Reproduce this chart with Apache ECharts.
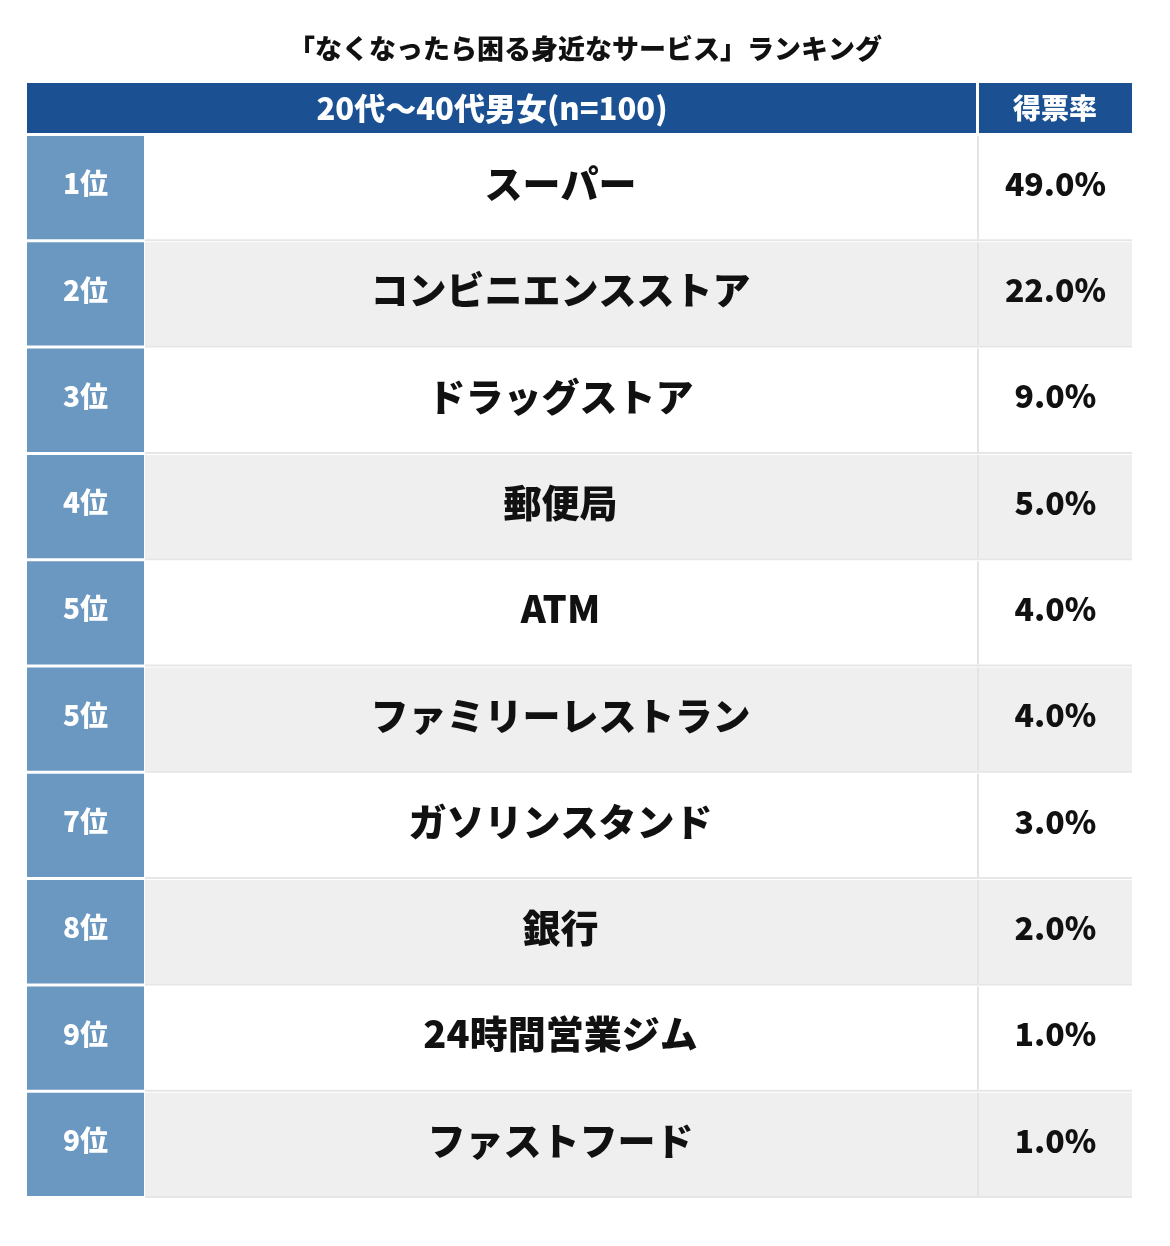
<!DOCTYPE html>
<html><head><meta charset="utf-8">
<script src="https://cdn.jsdelivr.net/npm/echarts@6/dist/echarts.min.js"></script>
<style>html,body{margin:0;padding:0;background:#fff}#c{width:1170px;height:1246px}</style>
</head><body><div id="c"></div>
<script>
const ranks = ['1位','2位','3位','4位','5位','5位','7位','8位','9位','9位'];
const services = ['スーパー','コンビニエンスストア','ドラッグストア','郵便局','ATM','ファミリーレストラン','ガソリンスタンド','銀行','24時間営業ジム','ファストフード'];
const shares = [49.0,22.0,9.0,5.0,4.0,4.0,3.0,2.0,1.0,1.0];
const headerLabels = ['20代〜40代男女(n=100)','得票率'];
const F = '"Noto Sans CJK JP", sans-serif';
const chart = echarts.init(document.getElementById('c'));
chart.setOption({
  animation:false,
  title:{text:'「なくなったら困る身近なサービス」ランキング',left:'center',top:30,
    textStyle:{fontFamily:F,fontSize:27,fontWeight:900,color:'#111'}},
  grid:{left:27,right:38,top:135,bottom:48},
  xAxis:{type:'value',min:0,max:1105,show:false},
  yAxis:{type:'category',data:services,inverse:true,show:false},
  graphic:[
    {type:'rect',shape:{x:27,y:83,width:1105,height:50},style:{fill:'#1b5193'}},
    {type:'rect',shape:{x:976,y:83,width:3,height:50},style:{fill:'#fff'}},
    {type:'text',x:492,y:108,style:{text:headerLabels[0],fill:'#fff',font:'900 31px '+F,align:'center',verticalAlign:'middle'}},
    {type:'text',x:1055,y:108,style:{text:headerLabels[1],fill:'#fff',font:'900 28px '+F,align:'center',verticalAlign:'middle'}}
  ],
  series:[{
    type:'custom',
    data:services.map((s,i)=>[i]),
    renderItem:function(params,api){
      const i=api.value(0);
      const c=api.coord([0,i]);
      const band=api.size([0,1])[1];
      const x0=api.coord([0,i])[0], x1=api.coord([117,i])[0], x2=api.coord([950,i])[0], x3=api.coord([952,i])[0], x4=api.coord([1105,i])[0];
      const top=c[1]-band/2+1, h=band-3, cy=top+h/2-4;
      const bg = i%2===0?'#ffffff':'#efefef';
      return {type:'group',children:[
        {type:'rect',shape:{x:x0,y:top,width:x1-x0,height:h},style:{fill:'#6b98c0'}},
        {type:'rect',shape:{x:x1+1,y:top,width:x4-x1-1,height:h},style:{fill:bg}},
        {type:'rect',shape:{x:x2,y:top,width:x3-x2,height:h},style:{fill:'#e4e4e4'}},
        {type:'rect',shape:{x:x1+1,y:top+h,width:x4-x1-1,height:2},style:{fill:'#e6e6e6'}},
        {type:'text',x:(x0+x1)/2,y:cy,style:{text:ranks[i],fill:'#fff',font:'900 28px '+F,align:'center',verticalAlign:'middle'}},
        {type:'text',x:(x1+x2)/2,y:cy,style:{text:services[i],fill:'#111',font:'900 38px '+F,align:'center',verticalAlign:'middle'}},
        {type:'text',x:(x3+x4)/2,y:cy,style:{text:shares[i].toFixed(1)+'%',fill:'#111',font:'900 32px '+F,align:'center',verticalAlign:'middle'}}
      ]};
    }
  }]
});
</script></body></html>
